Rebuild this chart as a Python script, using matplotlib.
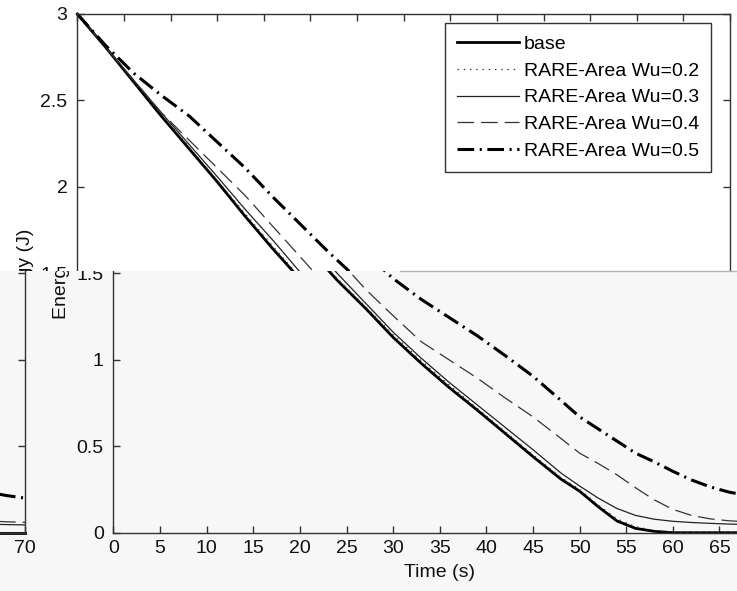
import matplotlib
matplotlib.use("Agg")
import matplotlib.pyplot as plt
from matplotlib.patches import Rectangle
from matplotlib.lines import Line2D
from matplotlib.legend import Legend
from matplotlib.transforms import Bbox, TransformedBbox

# data
time_s = [0, 3, 6, 9, 12, 15, 18, 21, 24, 27, 30, 33, 36, 39, 42, 45, 48,
          50, 52, 54, 56, 58, 60, 62, 64, 66, 68, 70]
base = [3.00, 2.81, 2.61, 2.41, 2.22, 2.03, 1.83, 1.64, 1.46, 1.30, 1.13,
        0.98, 0.84, 0.71, 0.575, 0.44, 0.31, 0.24, 0.15, 0.068, 0.025,
        0.008, 0.0, 0.0, 0.0, 0.0, 0.0, 0.0]
wu02 = [3.00, 2.81, 2.615, 2.42, 2.23, 2.04, 1.845, 1.655, 1.47, 1.31,
        1.145, 0.995, 0.855, 0.72, 0.585, 0.45, 0.32, 0.25, 0.16, 0.08,
        0.035, 0.012, 0.003, 0.0, 0.0, 0.0, 0.0, 0.0]
wu03 = [3.00, 2.81, 2.62, 2.43, 2.245, 2.06, 1.87, 1.69, 1.50, 1.33, 1.16,
        1.01, 0.87, 0.74, 0.61, 0.48, 0.345, 0.27, 0.20, 0.14, 0.10,
        0.078, 0.066, 0.059, 0.054, 0.05, 0.047, 0.045]
wu04 = [3.00, 2.81, 2.62, 2.43, 2.27, 2.11, 1.95, 1.77, 1.59, 1.41, 1.255,
        1.105, 1.0, 0.895, 0.78, 0.67, 0.545, 0.46, 0.40, 0.335, 0.26,
        0.19, 0.135, 0.10, 0.08, 0.069, 0.063, 0.06]
wu05 = [3.00, 2.82, 2.66, 2.53, 2.41, 2.26, 2.11, 1.94, 1.78, 1.62, 1.47,
        1.35, 1.245, 1.14, 1.025, 0.905, 0.765, 0.67, 0.60, 0.53, 0.46,
        0.41, 0.355, 0.305, 0.265, 0.235, 0.215, 0.20]
labels = ["base", "RARE-Area Wu=0.2", "RARE-Area Wu=0.3",
          "RARE-Area Wu=0.4", "RARE-Area Wu=0.5"]
x_ticks = list(range(0, 71, 5))
y_ticks = [0, 0.5, 1, 1.5, 2, 2.5, 3]
y_tick_labels = ["0", "0.5", "1", "1.5", "2", "2.5", "3"]

series = [base, wu02, wu03, wu04, wu05]
styles = [
    dict(color="black", lw=2.0, ls="-"),
    dict(color="#333333", lw=0.9, ls=(0, (1, 3.5))),
    dict(color="#222222", lw=0.9, ls="-"),
    dict(color="#333333", lw=0.9, ls=(0, (12, 5))),
    dict(color="black", lw=2.2, ls=(0, (12, 4, 1.5, 4))),
]

W, H = 737, 591
plt.rcParams["font.family"] = ["Liberation Sans", "DejaVu Sans"]
plt.rcParams["font.size"] = 14
plt.rcParams["lines.scale_dashes"] = False

fig = plt.figure(figsize=(W / 100, H / 100), dpi=100)

# axes frame in pixels (from the top-left corner of the picture)
AX_L, AX_R, AX_T, AX_B = 77.3, 730.0, 14.0, 532.7
SPLIT = 271  # row where the picture is torn


def draw_copy(shift, with_legend=False):
    ax = fig.add_axes([(AX_L + shift) / W, 1 - AX_B / H,
                       (AX_R - AX_L) / W, (AX_B - AX_T) / H])
    ax.patch.set_visible(False)
    for vals, lab, st in zip(series, labels, styles):
        ax.plot(time_s, vals, label=lab, **st)
    ax.set_xlim(0, 70)
    ax.set_ylim(0, 3)
    ax.set_xticks(x_ticks)
    ax.set_yticks(y_ticks)
    ax.set_yticklabels(y_tick_labels)
    ax.tick_params(direction="in", length=5, width=1, color="#333333",
                   top=True, right=True, labelcolor="#111111")
    ax.tick_params(axis="x", pad=5)
    ax.tick_params(axis="y", pad=7)
    for sp in ax.spines.values():
        sp.set_color("#333333")
        sp.set_linewidth(1.0)
    ax.set_xlabel("Time (s)", labelpad=5, color="#111111")
    ax.set_ylabel("Energy (J)", color="#111111")
    ax.yaxis.set_label_coords(-0.066, 0.5)
    if with_legend:
        leg = ax.legend(loc="upper right",
                        bbox_to_anchor=((711 - AX_L) / (AX_R - AX_L),
                                        (AX_B - 23.3) / (AX_B - AX_T)),
                        borderaxespad=0, handlelength=3.15, handletextpad=0.26,
                        labelspacing=0.47, borderpad=0.62, fancybox=False,
                        framealpha=1, edgecolor="#333333")
        leg.get_frame().set_linewidth(1.0)
    return ax


def clip_tree(artist, box):
    for ch in artist.get_children():
        if isinstance(ch, Legend):
            continue
        ch.set_clip_box(box)
        ch.set_clip_on(True)
        clip_tree(ch, box)


def pix_box(x0, x1, ytop, ybot):
    bb = Bbox.from_extents(x0 / W, 1 - ybot / H, x1 / W, 1 - ytop / H)
    return TransformedBbox(bb, fig.transFigure)


# light grey lower band and the tear line
fig.add_artist(Rectangle((0, 0), 1, 1 - SPLIT / H, transform=fig.transFigure,
                         facecolor="#f7f7f7", edgecolor="none", zorder=-5))
fig.add_artist(Line2D([400 / W, 1], [1 - SPLIT / H] * 2,
                      transform=fig.transFigure, color="#b5b5b5", lw=1))

top = draw_copy(0, with_legend=True)
bottom = draw_copy(36.1)
wrapped = draw_copy(-705)

fig.canvas.draw()
clip_tree(top, pix_box(0, W, 0, SPLIT))
clip_tree(bottom, pix_box(36, W, SPLIT, H))
clip_tree(wrapped, pix_box(0, 36, SPLIT, H))

fig.savefig("out.png", dpi=100)
